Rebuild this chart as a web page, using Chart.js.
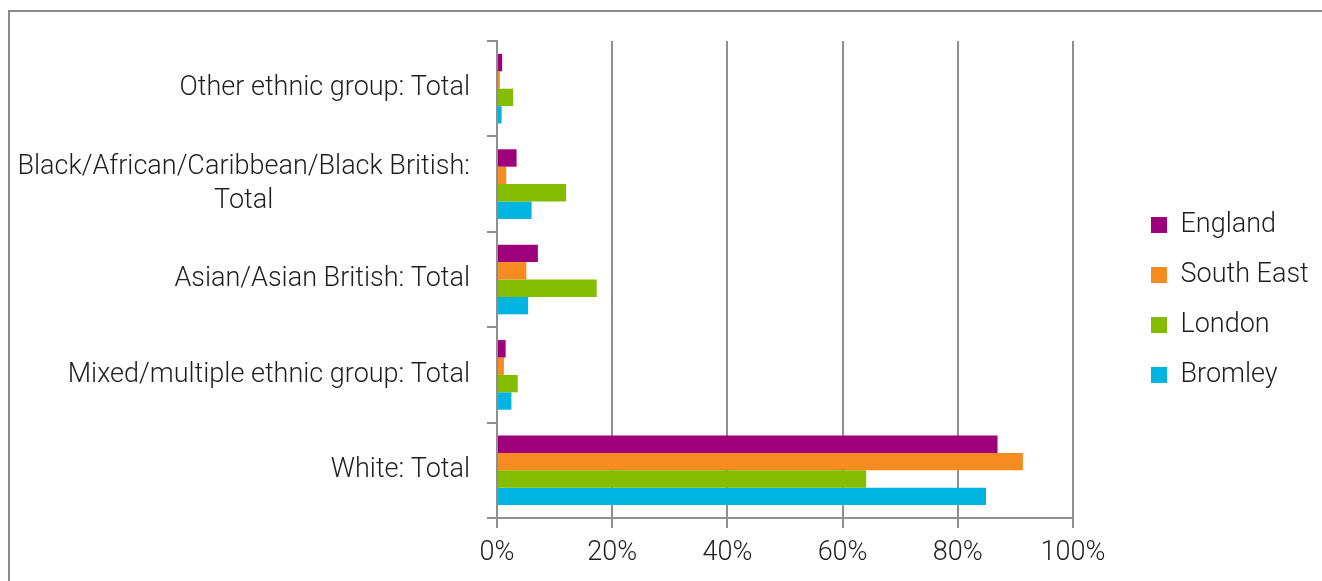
<!DOCTYPE html>
<html>
<head>
<meta charset="utf-8">
<script src="https://cdn.jsdelivr.net/npm/chart.js@4.4.1/dist/chart.umd.min.js"></script>
<style>
  html, body { margin: 0; padding: 0; background: #fff; overflow: hidden; }
  #frame { position: absolute; left: 8px; top: 10px; width: 1330px; height: 590px; border: 2px solid #8a8a8a; }
  #wrap { position: absolute; left: 0; top: 0; width: 1312px; height: 572px; }
</style>
</head>
<body>
<div id="frame"><div id="wrap"><canvas id="ethnicChart"></canvas></div></div>
<script>
var categories = [
    'Other ethnic group: Total',
    ['Black/African/Caribbean/Black British:', 'Total'],
    'Asian/Asian British: Total',
    'Mixed/multiple ethnic group: Total',
    'White: Total'
];
var seriesNames = ['England', 'South East', 'London', 'Bromley'];
var england   = [0.9, 3.4, 7.1, 1.5, 86.9];
var southEast = [0.5, 1.6, 5.1, 1.2, 91.3];
var london    = [2.8, 12.0, 17.3, 3.6, 64.1];
var bromley   = [0.8, 6.0, 5.4, 2.5, 84.9];
var xTicks = [0, 20, 40, 60, 80, 100];

var colours = ['#9e007b', '#f68b1f', '#84bd00', '#00b4e1'];
var textColour = '#1e1e1e';
var fontFamily = "Roboto, 'Liberation Sans', sans-serif";
var fontSize = 27;

// y labels: block right-aligned next to the axis, lines centred inside the block
var yLabelPlugin = {
    id: 'yLabels',
    afterDraw: function (chart) {
        var s = chart.scales.y;
        var ctx = chart.ctx;
        ctx.save();
        ctx.font = '300 ' + fontSize + 'px ' + fontFamily;
        ctx.fillStyle = textColour;
        ctx.textAlign = 'center';
        ctx.textBaseline = 'middle';
        var right = s.right - 10 - 17;
        chart.data.labels.forEach(function (lab, i) {
            var lines = Array.isArray(lab) ? lab : [lab];
            var maxW = 0;
            lines.forEach(function (l) { maxW = Math.max(maxW, ctx.measureText(l).width); });
            var y = s.getPixelForTick(i);
            var lh = 34;
            lines.forEach(function (l, j) {
                ctx.fillText(l, right - maxW / 2, y + (j - (lines.length - 1) / 2) * lh);
            });
        });
        ctx.restore();
    }
};

// legend sits a bit away from the plot, not glued to it
var legendShift = {
    id: 'legendShift',
    afterLayout: function (chart) {
        var lg = chart.legend;
        lg.left = chart.chartArea.right + 55;
        lg.right = lg.left + lg.width;
        lg.top += 2;
        lg.bottom += 2;
    }
};

var canvasContext = document.getElementById('ethnicChart').getContext('2d');

var ethnicChart = new Chart(canvasContext, {
    type: 'bar',
    data: {
        labels: categories,
        datasets: [
            { label: seriesNames[0], data: england,   backgroundColor: colours[0] },
            { label: seriesNames[1], data: southEast, backgroundColor: colours[1] },
            { label: seriesNames[2], data: london,    backgroundColor: colours[2] },
            { label: seriesNames[3], data: bromley,   backgroundColor: colours[3] }
        ]
    },
    options: {
        indexAxis: 'y',
        responsive: true,
        maintainAspectRatio: false,
        animation: false,
        categoryPercentage: 0.73,
        barPercentage: 1.0,
        layout: { padding: { left: 0, right: 15, top: 15, bottom: 15 } },
        plugins: {
            tooltip: { enabled: false },
            legend: {
                position: 'right',
                labels: {
                    boxWidth: 16,
                    boxHeight: 16,
                    padding: 23,
                    color: textColour,
                    font: { family: fontFamily, size: fontSize, weight: '300' }
                }
            }
        },
        scales: {
            x: {
                min: 0,
                max: 100,
                afterBuildTicks: function (scale) {
                    scale.ticks = xTicks.map(function (v) { return { value: v }; });
                },
                afterFit: function (scale) {
                    scale.paddingRight = 249;
                    scale.height = 51;
                },
                grid: { color: '#8f8f8f', lineWidth: 2, tickLength: 10 },
                border: { color: '#8f8f8f', width: 2 },
                ticks: {
                    padding: 9,
                    color: textColour,
                    font: { family: fontFamily, size: fontSize, weight: '300' },
                    callback: function (v) { return v + '%'; }
                }
            },
            y: {
                afterFit: function (scale) {
                    scale.width = 487;
                    scale.paddingTop = 29;
                },
                grid: { drawOnChartArea: false, color: '#8f8f8f', lineWidth: 2, tickLength: 10 },
                border: { color: '#8f8f8f', width: 2, z: 1 },
                ticks: {
                    color: 'rgba(0,0,0,0)',
                    font: { family: fontFamily, size: fontSize, weight: '300' }
                }
            }
        }
    },
    plugins: [yLabelPlugin, legendShift]
});
</script>
</body>
</html>
